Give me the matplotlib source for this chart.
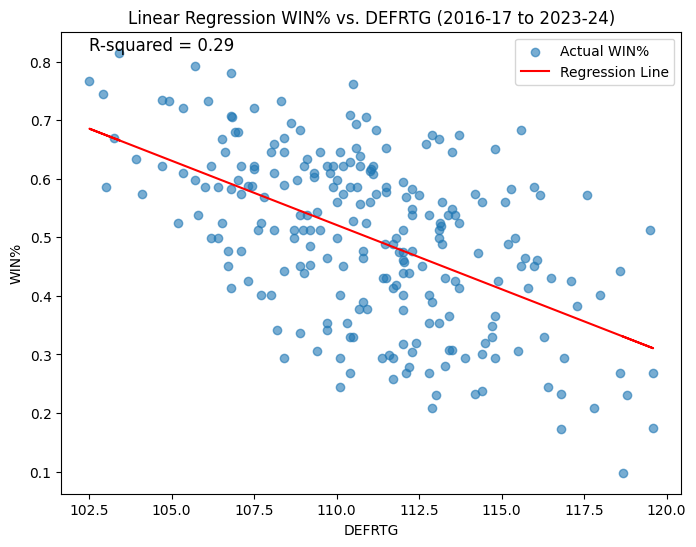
import numpy as np
import matplotlib
matplotlib.use('Agg')
import matplotlib.pyplot as plt

# Valores: DEFRTG vs WIN% (2016-17 a 2023-24)
defrtg = [
    103.41, 102.51, 102.93, 105.71, 104.72, 104.93, 105.33, 106.11, 103.24, 103.93,
    104.72, 105.33, 105.71, 106.19, 106.01, 106.40, 103.02, 104.11, 105.81, 105.20,
    106.19, 106.42,
    106.81, 108.31, 107.51, 106.79, 106.83, 106.92, 107.02, 106.52, 106.62, 108.62,
    108.89, 108.41, 108.11, 108.01, 108.41, 110.49, 110.40, 110.89, 110.58, 111.19,
    109.11, 109.01, 109.49, 110.10, 110.58, 110.71, 110.40, 110.20, 109.70, 109.90,
    109.80, 109.32, 109.32, 110.71, 111.11, 111.01, 111.03, 111.11, 107.10, 107.51,
    107.51, 108.11, 108.81, 108.41, 107.02, 106.81, 107.10, 107.32, 107.44, 107.81,
    110.00, 109.90, 110.40, 110.61, 110.20, 110.00, 110.71, 111.01, 111.19, 109.42,
    108.89, 109.11, 106.52, 107.72, 107.63, 108.11, 108.72, 108.99, 109.19, 109.49,
    108.72, 110.00, 110.50, 110.89, 109.19, 106.72, 107.10, 110.81, 110.81, 109.72,
    106.72, 108.89, 109.19, 110.20,
    106.81, 107.32, 108.41, 109.02, 107.72, 108.01, 110.11, 110.81, 110.68, 110.91,
    109.71, 109.71, 110.31, 108.20, 108.89, 110.42, 110.50, 109.41, 108.41, 110.11,
    110.42, 110.11,
    111.49, 112.89, 113.11, 112.71, 113.70, 113.49, 114.79, 115.59, 111.49, 111.49,
    112.02, 112.29, 112.11, 112.50, 113.19, 112.29, 112.29, 112.80, 113.49, 113.39,
    113.60, 113.70, 113.12, 113.15, 113.11, 113.11, 113.19, 114.19, 114.41, 115.10,
    115.29, 115.97, 116.15, 112.02, 111.80, 111.70, 111.47, 111.90, 112.02, 112.29,
    112.00, 112.03, 112.59, 114.29, 115.20, 115.40, 115.72, 115.60, 115.97, 116.07,
    117.59, 119.49,
    111.41, 111.49, 112.02, 112.20, 111.70, 111.80, 112.02, 112.02, 112.80, 112.89,
    113.29, 113.60, 113.70, 114.88, 115.81, 112.80, 113.11, 113.41, 114.79, 114.71,
    114.71, 114.50, 114.41, 114.79, 115.50, 112.02, 112.40, 112.29, 111.59, 111.71,
    111.36, 113.41, 113.49, 113.89, 113.29, 112.20, 112.11, 111.71, 112.80, 113.02,
    112.89, 114.20, 114.41,
    116.50, 117.10, 118.58, 117.97, 117.28, 116.28, 116.89, 118.58, 119.59, 116.41,
    116.79, 118.80, 117.80, 116.79, 119.59, 118.68,
]

win_pct = [
    0.815, 0.766, 0.744, 0.792, 0.735, 0.732, 0.720, 0.732, 0.670, 0.633,
    0.621, 0.609, 0.597, 0.621, 0.585, 0.585, 0.585, 0.573, 0.538, 0.524,
    0.499, 0.499,
    0.780, 0.732, 0.721, 0.707, 0.705, 0.680, 0.680, 0.667, 0.645, 0.695,
    0.683, 0.670, 0.659, 0.645, 0.645, 0.761, 0.708, 0.706, 0.694, 0.683,
    0.633, 0.622, 0.645, 0.645, 0.652, 0.638, 0.629, 0.622, 0.622, 0.622,
    0.610, 0.610, 0.602, 0.622, 0.622, 0.613, 0.616, 0.608, 0.622, 0.622,
    0.616, 0.610, 0.597, 0.589, 0.597, 0.583, 0.573, 0.588, 0.587, 0.569,
    0.597, 0.585, 0.585, 0.585, 0.573, 0.561, 0.556, 0.561, 0.573, 0.543,
    0.538, 0.538, 0.524, 0.524, 0.512, 0.512, 0.512, 0.512, 0.512, 0.512,
    0.499, 0.499, 0.528, 0.524, 0.485, 0.476, 0.476, 0.476, 0.465, 0.465,
    0.451, 0.451, 0.453, 0.451,
    0.414, 0.426, 0.442, 0.439, 0.402, 0.402, 0.402, 0.390, 0.378, 0.378,
    0.354, 0.341, 0.354, 0.341, 0.337, 0.329, 0.329, 0.305, 0.293, 0.293,
    0.269, 0.245,
    0.652, 0.674, 0.667, 0.659, 0.674, 0.645, 0.650, 0.683, 0.585, 0.577,
    0.595, 0.583, 0.568, 0.572, 0.561, 0.549, 0.538, 0.538, 0.549, 0.538,
    0.538, 0.524, 0.524, 0.520, 0.512, 0.499, 0.488, 0.573, 0.561, 0.561,
    0.583, 0.585, 0.572, 0.512, 0.499, 0.488, 0.488, 0.474, 0.474, 0.477,
    0.461, 0.458, 0.451, 0.473, 0.488, 0.499, 0.465, 0.451, 0.451, 0.462,
    0.572, 0.512,
    0.431, 0.431, 0.439, 0.439, 0.414, 0.418, 0.402, 0.375, 0.402, 0.390,
    0.431, 0.426, 0.414, 0.426, 0.414, 0.354, 0.354, 0.366, 0.366, 0.348,
    0.329, 0.319, 0.300, 0.293, 0.305, 0.317, 0.319, 0.304, 0.299, 0.293,
    0.293, 0.307, 0.307, 0.293, 0.281, 0.278, 0.269, 0.258, 0.269, 0.231,
    0.208, 0.233, 0.237,
    0.431, 0.426, 0.442, 0.402, 0.382, 0.329, 0.293, 0.269, 0.269, 0.245,
    0.233, 0.231, 0.208, 0.172, 0.175, 0.098,
]

x = np.array(defrtg)
y = np.array(win_pct)

# Ajuste lineal y R cuadrado
pendiente, intercepto = np.polyfit(x, y, 1)
y_pred = pendiente * x + intercepto
r2 = 1 - np.sum((y - y_pred) ** 2) / np.sum((y - y.mean()) ** 2)

fig, ax = plt.subplots(figsize=(8, 6), dpi=100)
ax.scatter(x, y, alpha=0.6, label='Actual WIN%')
ax.plot(x, y_pred, color='red', label='Regression Line')
ax.set_title('Linear Regression WIN% vs. DEFRTG (2016-17 to 2023-24)')
ax.set_xlabel('DEFRTG')
ax.set_ylabel('WIN%')
ax.text(0.045, 0.95, f'R-squared = {r2:.2f}', transform=ax.transAxes,
        fontsize=12, verticalalignment='bottom')
ax.legend()

plt.savefig('out.png', dpi=100, bbox_inches='tight')
